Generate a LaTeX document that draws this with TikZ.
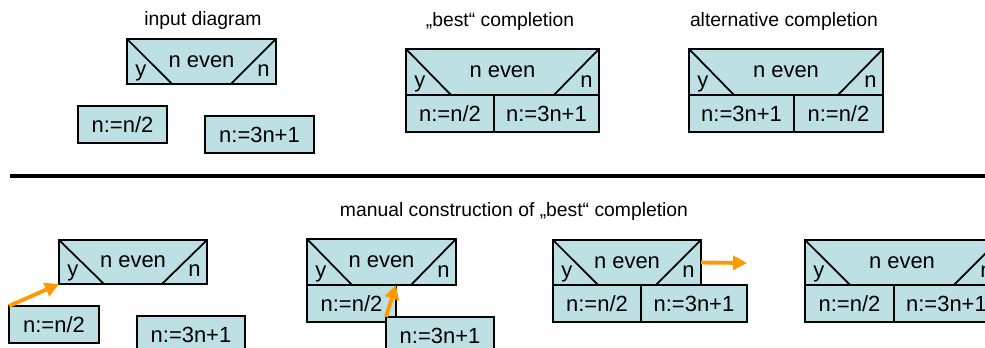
\documentclass[tikz,border=0pt]{standalone}
\usepackage{fontspec}
\setmainfont{Liberation Sans}
\usepackage{tikz}
\usetikzlibrary{arrows.meta, positioning, calc}

\definecolor{cellfill}{RGB}{189,224,228}
\definecolor{moveorange}{RGB}{255,153,0}

\begin{document}
\begin{tikzpicture}[
    x=0.02cm, y=-0.02cm,
    box/.style={rectangle, draw, fill=cellfill, line width=1pt, inner sep=0pt, outer sep=0pt, anchor=north west, font=\fontsize{12.5}{15}\selectfont},
    cond/.style={box, minimum height=0.9cm},
    cell/.style={box, minimum height=0.74cm},
    branch/.style={inner sep=0pt, font=\fontsize{12.5}{15}\selectfont},
    title/.style={font=\fontsize{11}{13}\selectfont},
    move/.style={-{Triangle[length=2.8mm, width=2.8mm]}, line width=2.2pt, moveorange}
]
\useasboundingbox (0,0) rectangle (985,348);
\clip (0,0) rectangle (985,348);

% upper half: input and the two completions
\node[title] (t1) at (203,21) {input diagram};
\node[title] (t2) at (500,22) {„best“ completion};
\node[title] (t3) at (784,22) {alternative completion};

\node[cond, minimum width=2.98cm] (d1) at (127,39) {n even};
\node[cell, minimum width=1.78cm] (a1) at (78,106) {n:=n/2};
\node[cell, minimum width=2.18cm] (b1) at (205,116) {n:=3n+1};

\node[cond, minimum width=3.86cm, minimum height=0.92cm] (d2) at (406,49) {n even};
\node[cell, minimum width=1.76cm] (c2a) at (d2.south west) {n:=n/2};
\node[cell, minimum width=2.1cm, right=0pt of c2a] (c2b) {n:=3n+1};

\node[cond, minimum width=3.88cm, minimum height=0.92cm] (d3) at (689,49) {n even};
\node[cell, minimum width=2.1cm] (c3a) at (d3.south west) {n:=3n+1};
\node[cell, minimum width=1.78cm, right=0pt of c3a] (c3b) {n:=n/2};

\draw[line width=1.8pt] (10,176) -- (985,176);

% lower half: step by step
\node[title] (t4) at (514,212) {manual construction of „best“ completion};

\node[cond, minimum width=2.96cm, minimum height=0.88cm] (d4) at (59,240) {n even};
\node[cell, minimum width=1.8cm] (a4) at (9,306) {n:=n/2};
\node[cell, minimum width=2.16cm] (b4) at (137,316) {n:=3n+1};

\node[cond, minimum width=2.98cm, minimum height=0.92cm] (d5) at (307,239) {n even};
\node[cell, minimum width=1.78cm] (a5) at (d5.south west) {n:=n/2};
\node[cell, minimum width=2.16cm] (b5) at (386,317) {n:=3n+1};

\node[cond, minimum width=2.96cm] (d6) at (553,240) {n even};
\node[cell, minimum width=1.76cm] (c6a) at (d6.south west) {n:=n/2};
\node[cell, minimum width=2.12cm, right=0pt of c6a] (c6b) {n:=3n+1};
\coordinate (e6) at (747,263);

\node[cond, minimum width=3.88cm] (d7) at (805,240) {n even};
\node[cell, minimum width=1.78cm] (c7a) at (d7.south west) {n:=n/2};
\node[cell, minimum width=2.1cm, right=0pt of c7a] (c7b) {n:=3n+1};

% yes / no corners of the conditions
\foreach \d in {d1,d2,d3,d4,d5,d6,d7} {
    \draw[line width=1pt] (\d.north west) -- ($(\d.south west)+(45,0)$)
                          (\d.north east) -- ($(\d.south east)+(-45,0)$);
    \node[branch, anchor=base west] (\d-y) at ($(\d.south west)+(8,-7)$) {y};
    \node[branch, anchor=base east] (\d-n) at ($(\d.south east)+(-6,-7)$) {n};
}

\draw[move] (a4.north west) -- (d4.south west);
\draw[move] (b5.north west) -- (a5.north east);
\draw[move] (d6.east) -- (e6);

\end{tikzpicture}
\end{document}
